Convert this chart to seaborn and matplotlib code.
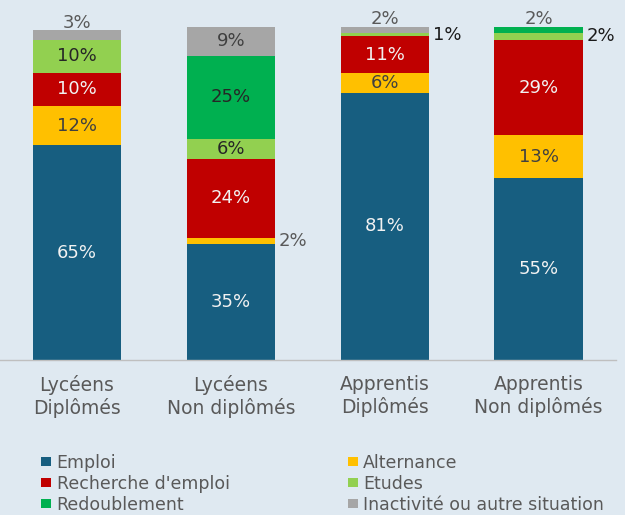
import matplotlib
matplotlib.use("Agg")
import matplotlib.pyplot as plt
from matplotlib.patches import Patch
import seaborn as sns
import pandas as pd
import numpy as np

categories = ["Lycéens\nDiplômés", "Lycéens\nNon diplômés", "Apprentis\nDiplômés", "Apprentis\nNon diplômés"]
emploi = [65, 35, 81, 55]
alternance = [12, 2, 6, 13]
recherche = [10, 24, 11, 29]
etudes = [10, 6, 1, 2]
redoublement = [0, 25, 0, 2]
inactivite = [3, 9, 2, 0]

series_names = ["Emploi", "Alternance", "Recherche d'emploi", "Etudes", "Redoublement", "Inactivité ou autre situation"]
series_values = [emploi, alternance, recherche, etudes, redoublement, inactivite]
colors = ["#175e80", "#ffc000", "#c00000", "#92d050", "#00b050", "#a6a6a6"]
label_colors = ["#f2f2f2", "#404040", "#f2f2f2", "#262626", "#262626", "#404040"]

BG = "#dfe9f1"
sns.set_theme(style="white")
plt.rcParams["font.family"] = ["DejaVu Sans"]

fig = plt.figure(figsize=(6.25, 5.15), dpi=100, facecolor=BG)
ax = fig.add_axes([0.0, 0.301, 0.985, 0.6796])
ax.set_facecolor(BG)

vals = np.array(series_values, dtype=float)
cum = np.cumsum(vals, axis=0)

# draw from top-most cumulative to bottom so lower segments overlay
for i in range(len(series_names) - 1, -1, -1):
    df = pd.DataFrame({"cat": categories, "val": cum[i]})
    sns.barplot(data=df, x="cat", y="val", color=colors[i], width=0.575,
                linewidth=0, saturation=1, ax=ax, order=categories)

half_w = 0.575 / 2
for j in range(len(categories)):
    nz = [i for i in range(len(series_names)) if vals[i, j] > 0]
    top_i = nz[-1]
    for i in nz:
        v = vals[i, j]
        bottom = cum[i, j] - v
        mid = bottom + v / 2
        txt = f"{int(v)}%"
        if v >= 5:
            ax.text(j, mid, txt, ha="center", va="center", color=label_colors[i], fontsize=13)
        elif i == top_i:
            ax.text(j, cum[i, j] - 0.6, txt, ha="center", va="bottom", color="#595959", fontsize=13)
        else:
            c = "#595959" if j == 1 else "#1a1a1a"
            ax.text(j + half_w + 0.025, mid, txt, ha="left", va="center", color=c, fontsize=13)

ax.set_xlim(-0.5, 3.5)
ax.set_ylim(0, 106)
ax.set_xlabel("")
ax.set_ylabel("")
ax.set_yticks([])
for s in ["top", "right", "left"]:
    ax.spines[s].set_visible(False)
ax.spines["bottom"].set_color("#bfbfbf")
ax.spines["bottom"].set_linewidth(1)
ax.tick_params(axis="x", length=0, pad=11, labelsize=13.5, labelcolor="#595959")

order = [0, 2, 4, 1, 3, 5]
handles = [Patch(facecolor=colors[k], edgecolor="none") for k in order]
labels = [series_names[k] for k in order]
leg = fig.legend(handles, labels, ncol=2, loc="upper left", bbox_to_anchor=(0.0656, 0.119),
                 frameon=False, fontsize=12.5, handlelength=0.6, handleheight=0.5,
                 handletextpad=0.3, labelspacing=0.17, columnspacing=6.8,
                 borderpad=0, borderaxespad=0, labelcolor="#595959")

fig.savefig("out.png", dpi=100, facecolor=BG)
